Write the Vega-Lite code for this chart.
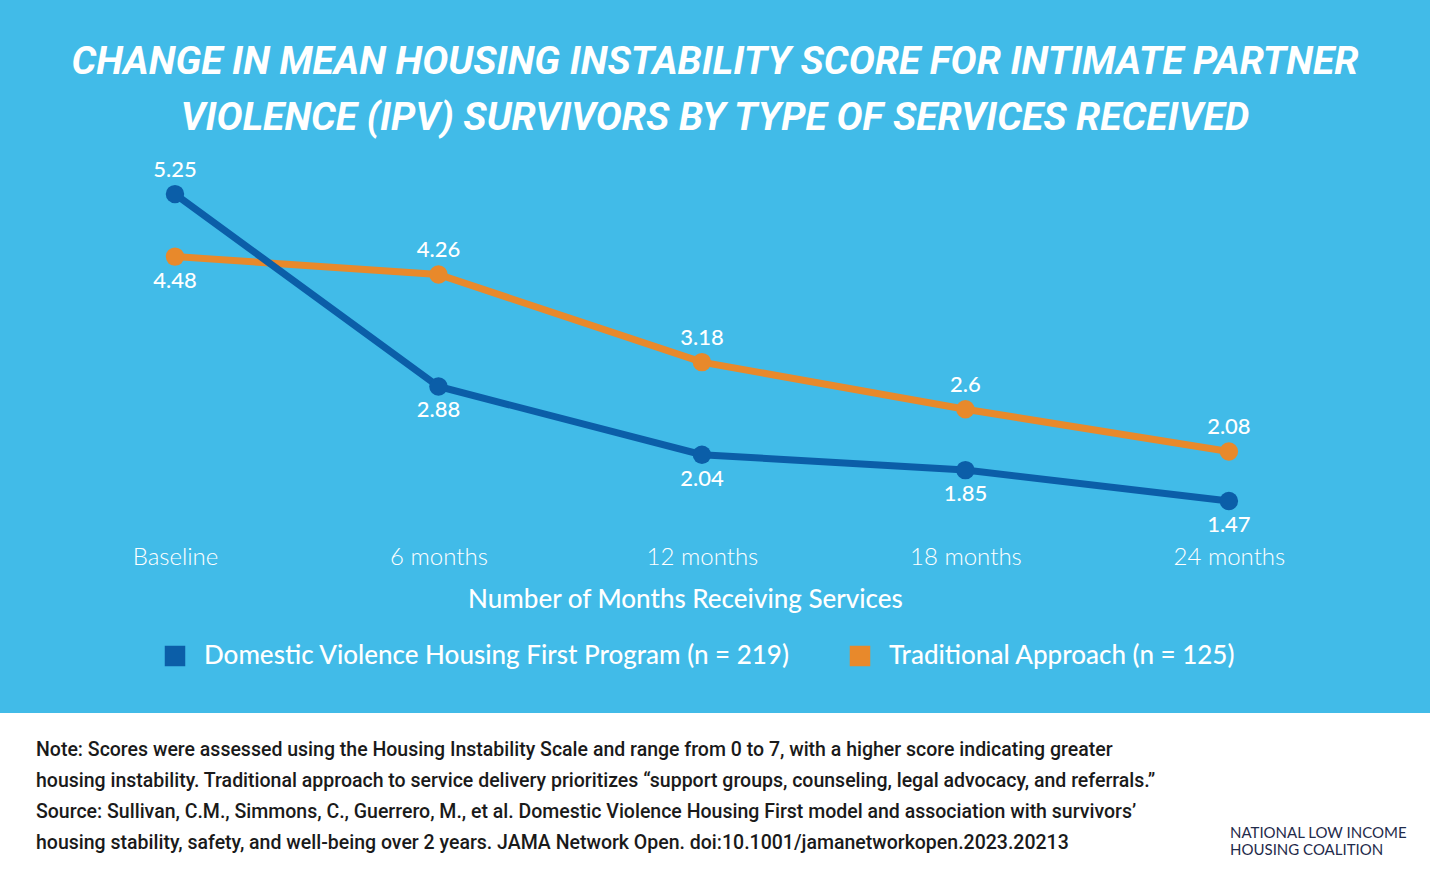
{
  "$schema": "https://vega.github.io/schema/vega-lite/v6.json",
  "background": "#41BBE8",
  "padding": 0,
  "spacing": 0,
  "config": {"view": {"stroke": null}, "font": "Lato"},
  "vconcat": [
    {
      "width": 1430,
      "height": 713,
      "title": {
        "text": ["CHANGE IN MEAN HOUSING INSTABILITY SCORE FOR INTIMATE PARTNER", "VIOLENCE (IPV) SURVIVORS BY TYPE OF SERVICES RECEIVED"],
        "font": "Roboto",
        "fontSize": 39,
        "fontWeight": "bold",
        "fontStyle": "italic",
        "color": "white",
        "lineHeight": 56,
        "anchor": "middle",
        "offset": -138
      },
      "data": {
        "values": [
          {"program": "Domestic Violence Housing First Program (n = 219)", "month": 0, "score": 5.25},
          {"program": "Domestic Violence Housing First Program (n = 219)", "month": 6, "score": 2.88},
          {"program": "Domestic Violence Housing First Program (n = 219)", "month": 12, "score": 2.04},
          {"program": "Domestic Violence Housing First Program (n = 219)", "month": 18, "score": 1.85},
          {"program": "Domestic Violence Housing First Program (n = 219)", "month": 24, "score": 1.47},
          {"program": "Traditional Approach (n = 125)", "month": 0, "score": 4.48},
          {"program": "Traditional Approach (n = 125)", "month": 6, "score": 4.26},
          {"program": "Traditional Approach (n = 125)", "month": 12, "score": 3.18},
          {"program": "Traditional Approach (n = 125)", "month": 18, "score": 2.6},
          {"program": "Traditional Approach (n = 125)", "month": 24, "score": 2.08}
        ]
      },
      "encoding": {
        "x": {
          "field": "month",
          "type": "quantitative",
          "scale": {"domain": [-3.985, 28.58], "nice": false, "zero": false},
          "axis": {
            "values": [0, 6, 12, 18, 24],
            "labelExpr": "datum.value == 0 ? 'Baseline' : datum.value + ' months'",
            "orient": "bottom",
            "offset": -175,
            "domain": false,
            "ticks": false,
            "grid": false,
            "labelPadding": 7,
            "labelFontSize": 24,
            "labelFont": "Lato",
            "labelFontWeight": 300,
            "labelColor": "white",
            "labelFlush": false,
            "labelOverlap": false,
            "encode": {"labels": {"update": {"dx": {"signal": "datum.value === 0 ? 20 : 3"}}}},
            "title": "Number of Months Receiving Services",
            "titleFontSize": 26,
            "titleFont": "Lato",
            "titleFontWeight": 500,
            "titleColor": "white",
            "titleX": 685,
            "titlePadding": 17
          }
        },
        "y": {
          "field": "score",
          "type": "quantitative",
          "scale": {"domain": [-1.142, 7.641], "nice": false, "zero": false},
          "axis": null
        },
        "color": {
          "field": "program",
          "type": "nominal",
          "scale": {
            "domain": ["Domestic Violence Housing First Program (n = 219)", "Traditional Approach (n = 125)"],
            "range": ["#0B5EA8", "#E8892B"]
          },
          "legend": {
            "orient": "none",
            "legendX": 162,
            "legendY": 643,
            "direction": "horizontal",
            "title": null,
            "symbolType": "square",
            "symbolSize": 420,
            "symbolStrokeWidth": 0,
            "symbolOpacity": 1,
            "labelFontSize": 26,
            "labelColor": "white",
            "labelFont": "Lato",
            "labelFontWeight": 500,
            "labelOffset": 16,
            "columnPadding": 57,
            "labelLimit": 0,
            "padding": 0
          }
        }
      },
      "layer": [
        {
          "transform": [{"filter": "datum.program == 'Traditional Approach (n = 125)'"}],
          "mark": {"type": "line", "strokeWidth": 7}
        },
        {
          "transform": [{"filter": "datum.program != 'Traditional Approach (n = 125)'"}],
          "mark": {"type": "line", "strokeWidth": 7}
        },
        {
          "mark": {"type": "point", "filled": true, "size": 340, "opacity": 1}
        },
        {
          "transform": [{"filter": "(datum.program == 'Traditional Approach (n = 125)' && datum.month > 0) || (datum.program != 'Traditional Approach (n = 125)' && datum.month == 0)"}],
          "mark": {"type": "text", "dy": -24, "fontSize": 22, "fontWeight": 500, "font": "Lato"},
          "encoding": {"text": {"field": "score", "type": "nominal"}, "color": {"value": "white"}}
        },
        {
          "transform": [{"filter": "!((datum.program == 'Traditional Approach (n = 125)' && datum.month > 0) || (datum.program != 'Traditional Approach (n = 125)' && datum.month == 0))"}],
          "mark": {"type": "text", "dy": 24, "fontSize": 22, "fontWeight": 500, "font": "Lato"},
          "encoding": {"text": {"field": "score", "type": "nominal"}, "color": {"value": "white"}}
        }
      ]
    },
    {
      "width": 1430,
      "height": 167,
      "view": {"fill": "white", "stroke": null},
      "layer": [
        {
          "data": {
            "values": [
              {"line": 1, "text": "Note:  Scores were assessed using the Housing Instability Scale and range from 0 to 7, with a higher score indicating greater"},
              {"line": 2, "text": "housing instability. Traditional approach to service delivery prioritizes “support groups, counseling, legal advocacy, and referrals.”"},
              {"line": 3, "text": "Source:  Sullivan, C.M., Simmons, C., Guerrero, M., et al. Domestic Violence Housing First model and association with survivors’"},
              {"line": 4, "text": "housing stability, safety, and well-being over 2 years. JAMA Network Open. doi:10.1001/jamanetworkopen.2023.20213"}
            ]
          },
          "mark": {"type": "text", "align": "left", "baseline": "middle", "font": "Roboto", "fontSize": 19.5, "fontWeight": 500, "color": "#1a1a1a"},
          "encoding": {
            "x": {"value": 36},
            "y": {"field": "line", "type": "ordinal", "axis": null, "scale": {"type": "point", "range": [37, 130], "padding": 0}},
            "text": {"field": "text"}
          }
        },
        {
          "data": {"values": [{"row": 1, "label": "NATIONAL LOW INCOME"}, {"row": 2, "label": "HOUSING COALITION"}]},
          "mark": {"type": "text", "align": "left", "baseline": "middle", "font": "Lato", "fontSize": 15, "color": "#1F2B4B"},
          "encoding": {
            "x": {"value": 1230},
            "y": {"field": "row", "type": "ordinal", "axis": null, "scale": {"type": "point", "range": [120, 137], "padding": 0}},
            "text": {"field": "label"}
          }
        }
      ],
      "resolve": {"scale": {"y": "independent"}}
    }
  ]
}
